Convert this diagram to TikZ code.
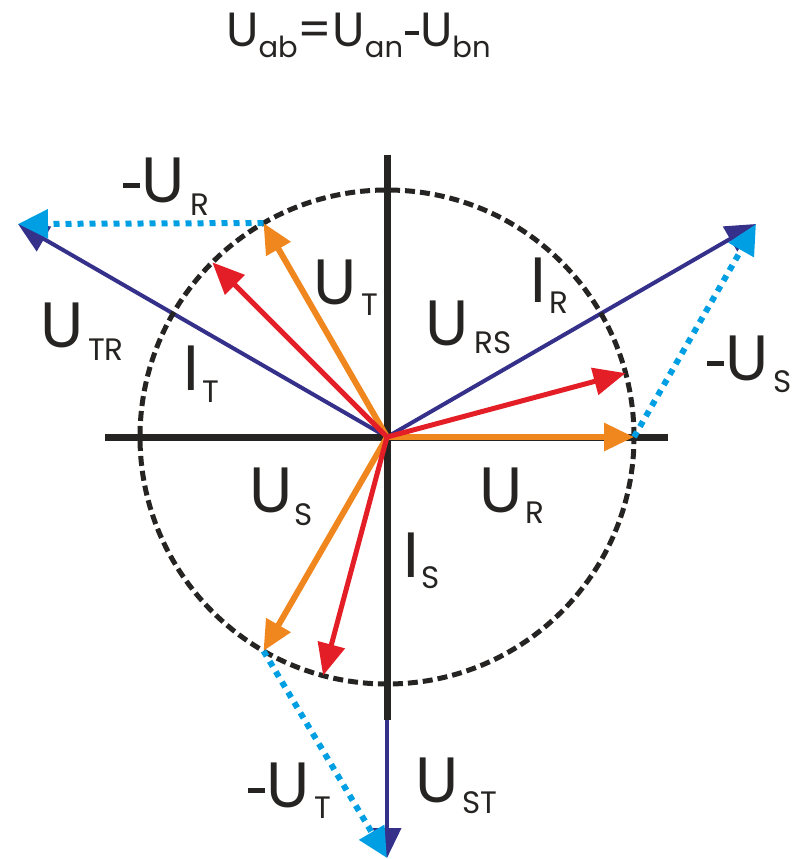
\documentclass[tikz,border=0pt]{standalone}
\usepackage{fontspec}
\setmainfont{Poppins}
\usetikzlibrary{arrows.meta,calc}
\definecolor{cOrange}{RGB}{240,134,30}
\definecolor{cRed}{RGB}{227,30,38}
\definecolor{cNavy}{RGB}{53,49,138}
\definecolor{cBlue}{RGB}{0,159,227}
\definecolor{cBlack}{RGB}{38,36,35}
\newcommand{\bigU}{\fontsize{64}{64}\selectfont}
\newcommand{\subU}{\fontsize{31}{31}\selectfont}
\newcommand{\ttlU}{\fontsize{48}{48}\selectfont}
\newcommand{\ttlS}{\fontsize{29}{29}\selectfont}
\newcommand{\bigminus}{\rule[14pt]{17pt}{5pt}\hspace{1pt}}
\newcommand{\ttlminus}{\hspace{2pt}\rule[12pt]{14pt}{3.5pt}\hspace{1pt}}
\begin{document}
\begin{tikzpicture}[x=1pt,y=-1pt,
  axis/.style={line width=7pt,cBlack},
  ring/.style={line width=5pt,cBlack,dash pattern=on 10pt off 5pt},
  volt/.style={line width=6pt,cOrange,-{Triangle[length=30pt,width=27pt]}},
  curr/.style={line width=5pt,cRed,-{Triangle[length=32pt,width=27pt]}},
  line/.style={line width=4pt,cNavy,-{Triangle[length=30pt,width=28pt]}},
  neg/.style={line width=6pt,cBlue,dash pattern=on 6pt off 6pt,-{Triangle[length=30pt,width=28pt]}},
  big/.style={inner sep=0pt,anchor=base,text=cBlack,font=\bigU},
  negl/.style={inner sep=0pt,anchor=base west,text=cBlack,font=\bigU},
  sub/.style={inner sep=0pt,anchor=base,text=cBlack,font=\subU}]
\useasboundingbox (0,0) rectangle (805,859);
\coordinate (O) at (387,437);
\coordinate (axL) at (105,437);
\coordinate (axR) at (668,437);
\coordinate (axT) at (387,155);
\coordinate (axB) at (387,720);
\coordinate (uR) at (634,437);
\coordinate (uT) at (263.5,223);
\coordinate (uS) at (263.5,651);
\coordinate (iR) at (625.6,373.1);
\coordinate (iT) at (212.3,262.3);
\coordinate (iS) at (323.1,675.6);
\coordinate (uRS) at (756,224);
\coordinate (uTR) at (18,224);
\coordinate (uST) at (387,858);
% line voltages
\draw[line] (O) -- (uRS);
\draw[line] (O) -- (uTR);
\draw[line] (O) -- (uST);
% axes
\draw[axis] (axL) -- (axR);
\draw[axis] (axT) -- (axB);
% circle
\draw[ring] (O) circle[radius=247pt];
% negated phase voltages
\draw[neg] (uT) -- (uTR);
\draw[neg] (uR) -- (uRS);
\draw[neg] (uS) -- (uST);
% phase voltages
\draw[volt] (O) -- (uR);
\draw[volt] (O) -- (uT);
\draw[volt] (O) -- (uS);
% currents
\draw[curr] (O) -- (iR);
\draw[curr] (O) -- (iT);
\draw[curr] (O) -- (iS);
% title
\node[inner sep=0pt,anchor=base west,text=cBlack] (title) at (226,47)
  {\ttlU U\raisebox{-10pt}{\ttlS ab}=U\raisebox{-10pt}{\ttlS an}\ttlminus U\raisebox{-10pt}{\ttlS bn}};
% labels
\node[negl] (lnUR) at (123,202) {\bigminus U};  \node[sub] (lnURs) at (200,215) {R};
\node[big] (lUTR) at (62,347) {U};     \node[sub] (lUTRs) at (106,360) {TR};
\node[big] (lUT) at (335,304) {U};     \node[sub] (lUTs) at (370,315) {T};
\node[big] (lURS) at (447,345) {U};    \node[sub] (lURSs) at (493,353) {RS};
\node[big] (lIR) at (538,302) {I};     \node[sub] (lIRs) at (559,313) {R};
\node[big] (lIT) at (191,390) {I};     \node[sub] (lITs) at (211,402) {T};
\node[negl] (lnUS) at (707,380) {\bigminus U};  \node[sub] (lnUSs) at (783,392) {S};
\node[big] (lUS) at (271,512) {U};     \node[sub] (lUSs) at (304,525) {S};
\node[big] (lUR) at (501,512) {U};     \node[sub] (lURs) at (535,523) {R};
\node[big] (lIS) at (411,577) {I};     \node[sub] (lISs) at (431,588) {S};
\node[negl] (lnUT) at (248,807) {\bigminus U};  \node[sub] (lnUTs) at (323,818) {T};
\node[big] (lUST) at (437,802) {U};    \node[sub] (lUSTs) at (480,813) {ST};
\end{tikzpicture}
\end{document}
